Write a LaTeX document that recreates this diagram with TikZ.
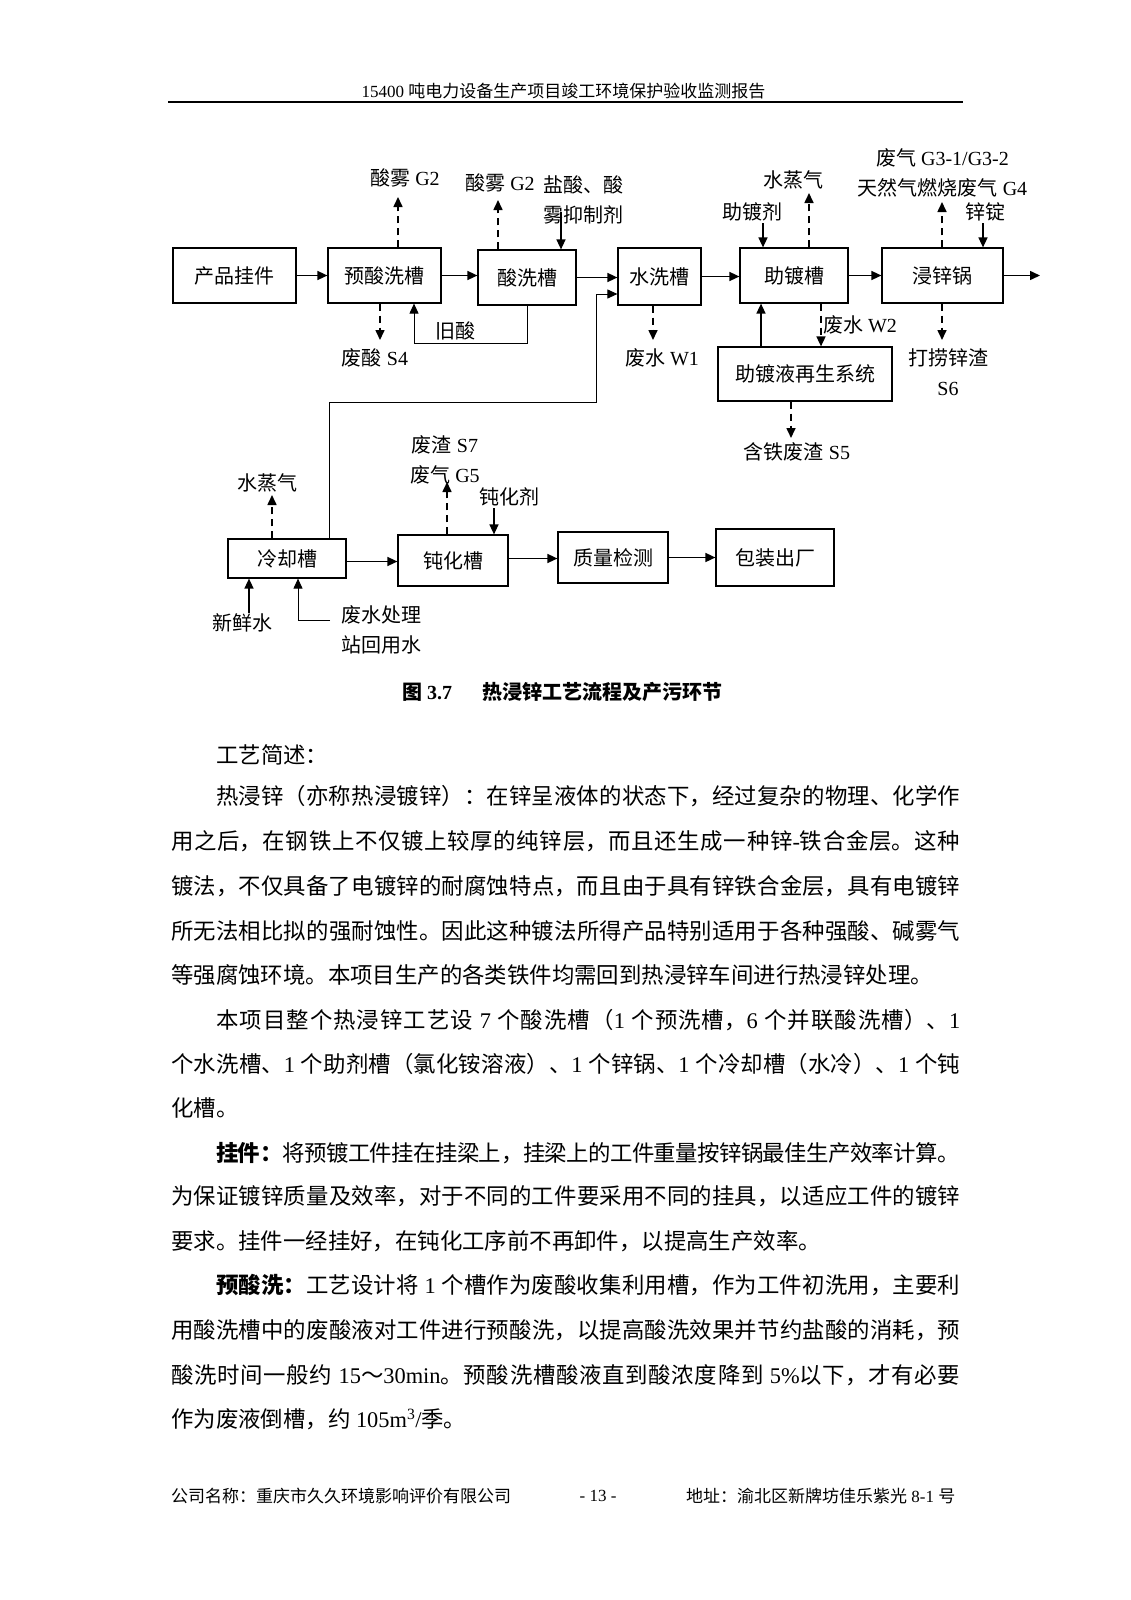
\documentclass[tikz,border=0pt]{standalone}
\usepackage{fontspec}
\setmainfont{Liberation Serif}
\newfontfamily\cjk{Noto Sans CJK SC}
\usetikzlibrary{arrows.meta, positioning}

% Chinese characters go to the CJK font, the rest stays in the serif
\XeTeXinterchartokenstate=1
\newXeTeXintercharclass\hanzi
\newcount\hz
\hz="3000 \loop\ifnum\hz<"3040 \XeTeXcharclass\hz=\hanzi \advance\hz by 1 \repeat
\hz="4E00 \loop\ifnum\hz<"A000 \XeTeXcharclass\hz=\hanzi \advance\hz by 1 \repeat
\hz="FF00 \loop\ifnum\hz<"FFF0 \XeTeXcharclass\hz=\hanzi \advance\hz by 1 \repeat
\XeTeXinterchartoks 0 \hanzi={\begingroup\cjk}
\XeTeXinterchartoks 4095 \hanzi={\begingroup\cjk}
\XeTeXinterchartoks \hanzi 0={\endgroup}
\XeTeXinterchartoks \hanzi 4095={\endgroup}
\XeTeXlinebreaklocale "zh"
\XeTeXlinebreakskip=0pt plus 3pt minus 1pt

\newcommand\dgfont{\fontsize{20}{30}\selectfont}
\newcommand\bodyfont{\fontsize{22.4}{30}\selectfont}
\newcommand\hdrfont{\fontsize{17}{20}\selectfont}
% one justified line of the body text
\newcommand\indline[1]{\parbox{744pt}{\parfillskip=0pt #1}}
\newcommand\fulline[1]{\parbox{789pt}{\parfillskip=0pt #1}}

\tikzset{
  box/.style={draw, line width=1.2pt, minimum height=55pt, inner sep=2pt, font=\dgfont},
  lbl/.style={inner sep=1pt, font=\dgfont, align=center},
  arr/.style={-{Triangle[length=10pt, width=9pt]}, line width=1.5pt},
  thinarr/.style={arr, line width=1pt},
  darr/.style={arr, line width=1.6pt, dash pattern=on 7pt off 5pt},
  hdr/.style={inner sep=0pt, font=\hdrfont},
  para/.style={anchor=west, inner sep=0pt, font=\bodyfont},
  tucap/.style={inner sep=0pt, font=\dgfont\bfseries}
}

\begin{document}
\begin{tikzpicture}[x=1pt, y=-1pt]
\fill[white] (0,0) rectangle (1131,1600);
\useasboundingbox (0,0) rectangle (1131,1600);

% header and footer
\node[hdr] (biaoti) at (563.5,91) {15400 吨电力设备生产项目竣工环境保护验收监测报告};
\draw[line width=1.3pt] (168,102) -- (963,102);
\node[hdr, anchor=west] (gongsi) at (171,1496) {公司名称：重庆市久久环境影响评价有限公司};
\node[hdr] (yema) at (598,1496) {- 13 -};
\node[hdr, anchor=west] (dizhi) at (686,1496) {地址：渝北区新牌坊佳乐紫光 8-1 号};

% process boxes
\node[box, minimum width=123pt] (gua) at (234.5,275.5) {产品挂件};
\node[box, minimum width=113pt] (yu) at (384.5,275.5) {预酸洗槽};
\node[box, minimum width=98pt] (suan) at (527,277.5) {酸洗槽};
\node[box, minimum width=83pt, minimum height=57pt] (shui) at (659.5,276.5) {水洗槽};
\node[box, minimum width=108pt] (zhu) at (794,275.5) {助镀槽};
\node[box, minimum width=121pt] (guo) at (942.5,275.5) {浸锌锅};
\node[box, minimum width=174pt, minimum height=54pt] (zaisheng) at (805,374) {助镀液再生系统};
\node[box, minimum width=118pt, minimum height=39pt] (leng) at (287,558.5) {冷却槽};
\node[box, minimum width=110pt, minimum height=51pt] (dun) at (453,560.5) {钝化槽};
\node[box, minimum width=110pt, minimum height=51pt] (zhi) at (613,557.5) {质量检测};
\node[box, minimum width=118pt, minimum height=57pt] (bao) at (775,557.5) {包装出厂};

% labels
\node[lbl] (g2a) at (405,178) {酸雾 G2};
\node[lbl] (g2b) at (500,183) {酸雾 G2};
\node[lbl] (yansuan) at (583,200) {盐酸、酸\\雾抑制剂};
\node[lbl] (s4) at (375,358) {废酸 S4};
\node[lbl] (jiusuan) at (455,331) {旧酸};
\node[lbl] (w1) at (662,358) {废水 W1};
\node[lbl] (zhuji) at (752,212) {助镀剂};
\node[lbl] (zqa) at (793,180) {水蒸气};
\node[lbl] (w2) at (860,325) {废水 W2};
\node[lbl] (s5) at (797,452) {含铁废渣 S5};
\node[lbl] (g3) at (942.5,173) {废气 G3-1/G3-2\\天然气燃烧废气 G4};
\node[lbl] (xinding) at (985,212) {锌锭};
\node[lbl] (s6) at (948,372) {打捞锌渣\\S6};
\node[lbl] (zqb) at (267,483) {水蒸气};
\node[lbl] (s7) at (445,460) {废渣 S7\\废气 G5};
\node[lbl] (dunji) at (509,497) {钝化剂};
\node[lbl] (xinxian) at (242,623) {新鲜水};
\node[lbl] (huiyong) at (381,630) {废水处理\\站回用水};

% free ends of the connectors
\coordinate (chu) at (1040,275.5);
\coordinate (g2a-d) at (398,197);
\coordinate (g2b-d) at (498,200);
\coordinate (s4-d) at (380,340);
\coordinate (w1-d) at (653,340);
\coordinate (zqa-d) at (809,193);
\coordinate (w2-x) at (821,330);
\coordinate (s5-d) at (791,438);
\coordinate (g3-d) at (942,202);
\coordinate (s6-d) at (942,340);
\coordinate (zqb-d) at (272,495);
\coordinate (g5-d) at (447,482);
\coordinate (yansuan-s) at (561,212);
\coordinate (zhuji-s) at (763,223);
\coordinate (xinding-s) at (983,223);
\coordinate (dunji-s) at (494,508);
\coordinate (xinxian-s) at (249,613);
\coordinate (huiyong-s) at (330,620);
\coordinate (fanhui) at (761,330);
\coordinate (jiu) at (414,343);
\coordinate (lengchu) at (329,500);
\coordinate (huiliu) at (596,402);
\coordinate (shuiru) at (600,294);

% main flow
\draw[arr] (gua) -- (yu);
\draw[arr] (yu.east) -- (yu.east -| suan.west);
\draw[arr] (suan.east) -- (suan.east -| shui.west);
\draw[arr] (shui.east) -- (shui.east -| zhu.west);
\draw[arr] (zhu) -- (guo);
\draw[arr] (guo.east) -- (chu);
\draw[arr] ([yshift=-3pt]leng.east) -- ([yshift=-3pt]leng.east -| dun.west);
\draw[arr] ([yshift=2pt]dun.east) -- ([yshift=2pt]dun.east -| zhi.west);
\draw[arr] (zhi.east) -- (zhi.east -| bao.west);
\draw[thinarr] (leng.north -| lengchu) |- (huiliu) |- (shui.west |- shuiru);
\draw[thinarr] (suan.south) |- (jiu) -- (yu.south -| jiu);
\draw[arr] (zaisheng.north -| fanhui) -- (zhu.south -| fanhui);

% inputs
\draw[arr] (yansuan-s) -- (yansuan-s |- suan.north);
\draw[arr] (zhuji-s) -- (zhuji-s |- zhu.north);
\draw[arr] (xinding-s) -- (xinding-s |- guo.north);
\draw[arr] (dunji-s) -- (dunji-s |- dun.north);
\draw[arr] (xinxian-s) -- (xinxian-s |- leng.south);
\draw[thinarr] (huiyong-s) -| ([xshift=11pt]leng.south);

% pollutants
\draw[darr] (yu.north -| g2a-d) -- (g2a-d);
\draw[darr] (suan.north -| g2b-d) -- (g2b-d);
\draw[darr] (yu.south -| s4-d) -- (s4-d);
\draw[darr] (shui.south -| w1-d) -- (w1-d);
\draw[darr] (zhu.north -| zqa-d) -- (zqa-d);
\draw[darr] (zhu.south -| w2-x) -- (zaisheng.north -| w2-x);
\draw[darr] (zaisheng.south -| s5-d) -- (s5-d);
\draw[darr] (guo.north -| g3-d) -- (g3-d);
\draw[darr] (guo.south -| s6-d) -- (s6-d);
\draw[darr] (leng.north -| zqb-d) -- (zqb-d);
\draw[darr] (dun.north -| g5-d) -- (g5-d);

\node[tucap] (tuming) at (562,692) {图 3.7\hspace{30pt}热浸锌工艺流程及产污环节};

% text below the figure
\node[para] (t0) at (216,755) {工艺简述：};
\node[para] (t1) at (216,796) {\indline{热浸锌（亦称热浸镀锌）：在锌呈液体的状态下，经过复杂的物理、化学作}};
\node[para] (t2) at (171,841) {\fulline{用之后，在钢铁上不仅镀上较厚的纯锌层，而且还生成一种锌-铁合金层。这种}};
\node[para] (t3) at (171,886) {\fulline{镀法，不仅具备了电镀锌的耐腐蚀特点，而且由于具有锌铁合金层，具有电镀锌}};
\node[para] (t4) at (171,931) {\fulline{所无法相比拟的强耐蚀性。因此这种镀法所得产品特别适用于各种强酸、碱雾气}};
\node[para] (t5) at (171,975) {等强腐蚀环境。本项目生产的各类铁件均需回到热浸锌车间进行热浸锌处理。};
\node[para] (t6) at (216,1020) {\indline{本项目整个热浸锌工艺设 7 个酸洗槽（1 个预洗槽，6 个并联酸洗槽）、1}};
\node[para] (t7) at (171,1064) {\fulline{个水洗槽、1 个助剂槽（氯化铵溶液）、1 个锌锅、1 个冷却槽（水冷）、1 个钝}};
\node[para] (t8) at (171,1108) {化槽。};
\node[para] (t9) at (216,1153) {\indline{\textbf{挂件：}将预镀工件挂在挂梁上，挂梁上的工件重量按锌锅最佳生产效率计算。}};
\node[para] (t10) at (171,1196) {\fulline{为保证镀锌质量及效率，对于不同的工件要采用不同的挂具，以适应工件的镀锌}};
\node[para] (t11) at (171,1241) {要求。挂件一经挂好，在钝化工序前不再卸件，以提高生产效率。};
\node[para] (t12) at (216,1285) {\indline{\textbf{预酸洗：}工艺设计将 1 个槽作为废酸收集利用槽，作为工件初洗用，主要利}};
\node[para] (t13) at (171,1330) {\fulline{用酸洗槽中的废酸液对工件进行预酸洗，以提高酸洗效果并节约盐酸的消耗，预}};
\node[para] (t14) at (171,1375) {\fulline{酸洗时间一般约 15～30min。预酸洗槽酸液直到酸浓度降到 5\%以下，才有必要}};
\node[para] (t15) at (171,1419) {作为废液倒槽，约 105m\textsuperscript{3}/季。};
\end{tikzpicture}
\end{document}
